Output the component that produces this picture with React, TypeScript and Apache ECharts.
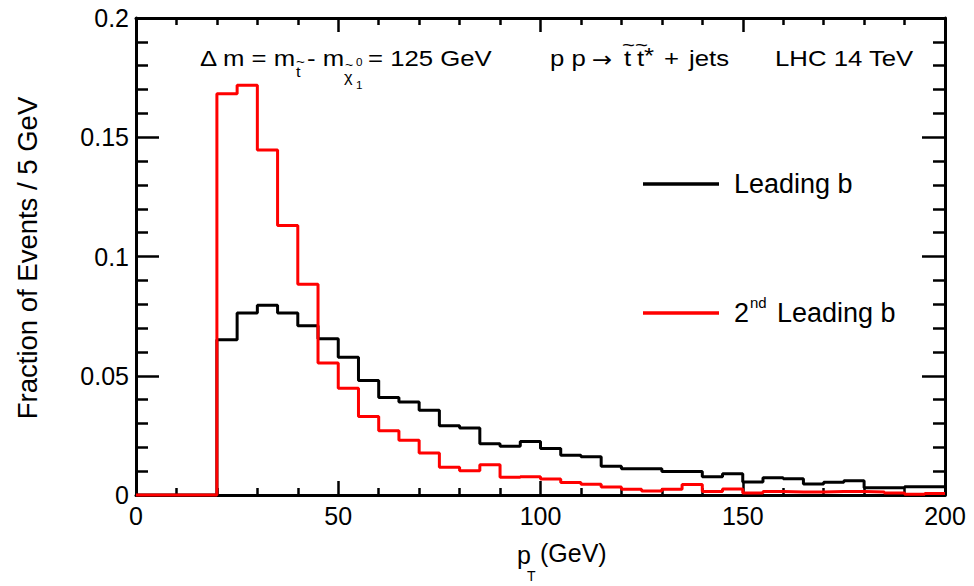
import React, { useEffect, useRef } from "react";
import * as echarts from "echarts";

// Bin left edges (GeV), 5 GeV bins from 0 to 200
const binEdges: number[] = [
  0, 5, 10, 15, 20, 25, 30, 35, 40, 45, 50, 55, 60, 65, 70, 75, 80, 85, 90, 95,
  100, 105, 110, 115, 120, 125, 130, 135, 140, 145, 150, 155, 160, 165, 170, 175, 180, 185, 190, 195,
];
const xMaxEdge = 200;

const leadingB: number[] = [
  0, 0, 0, 0, 0.0651, 0.0763, 0.0796, 0.0763, 0.071, 0.0655,
  0.0578, 0.048, 0.0409, 0.039, 0.0355, 0.029, 0.0281, 0.0215, 0.0204, 0.0224,
  0.0195, 0.0167, 0.016, 0.0121, 0.011, 0.011, 0.0099, 0.0099, 0.0076, 0.0089,
  0.0054, 0.0072, 0.0068, 0.0046, 0.0053, 0.006, 0.003, 0.003, 0.0035, 0.0035,
];
const secondLeadingB: number[] = [
  0, 0, 0, 0, 0.1682, 0.1718, 0.1447, 0.113, 0.0884, 0.0553,
  0.0448, 0.0329, 0.0269, 0.023, 0.0176, 0.0116, 0.0102, 0.0127, 0.0074, 0.0077,
  0.0067, 0.0052, 0.0045, 0.0034, 0.0024, 0.0017, 0.0024, 0.0044, 0.0015, 0.0025,
  0.0008, 0.0015, 0.0013, 0.0013, 0.0015, 0.0015, 0.0013, 0.0008, 0.0003, 0.0006,
];

const xTicks = { min: 0, max: 200, interval: 50 };
const yTicks = { min: 0, max: 0.2, interval: 0.05 };

const FONT = "Liberation Sans, Arial, sans-serif";
const TOP_SX = 1.17;

function stepData(vals: number[]): number[][] {
  const d = binEdges.map((x, i) => [x, vals[i]]);
  d.push([xMaxEdge, vals[vals.length - 1]]);
  return d;
}

function txt(text: string, x: number, y: number, size: number, extra: any = {}, sx = 1, family = FONT) {
  return {
    type: "text",
    x,
    y,
    scaleX: sx,
    silent: true,
    style: {
      text,
      font: `${size}px ${family}`,
      fill: "#000",
      textAlign: "left",
      textVerticalAlign: "middle",
      ...extra,
    },
  };
}

export default function App() {
  const ref = useRef<HTMLDivElement>(null);
  useEffect(() => {
    if (!ref.current) return;
    const chart = echarts.init(ref.current, null, { renderer: "svg" });
    const axisLine = { show: true, onZero: false, lineStyle: { color: "#000", width: 3 } };
    const xBase = {
      type: "value",
      min: xTicks.min,
      max: xTicks.max,
      interval: xTicks.interval,
      axisLine,
      axisTick: { show: true, inside: true, length: 14, lineStyle: { color: "#000", width: 2.5 } },
      minorTick: { show: true, splitNumber: 5, length: 7, lineStyle: { color: "#000", width: 2.5 } },
      splitLine: { show: false },
      minorSplitLine: { show: false },
    };
    const yBase = {
      type: "value",
      min: yTicks.min,
      max: yTicks.max,
      interval: yTicks.interval,
      axisLine,
      axisTick: { show: true, inside: true, length: 23, lineStyle: { color: "#000", width: 2.5 } },
      minorTick: { show: true, splitNumber: 5, length: 12, lineStyle: { color: "#000", width: 2.5 } },
      splitLine: { show: false },
      minorSplitLine: { show: false },
    };
    const top = (t: string, x: number, y: number, size: number, extra: any = {}) =>
      txt(t, x, y, size, extra, TOP_SX);
    const option: any = {
      animation: false,
      backgroundColor: "#fff",
      grid: { left: 136, right: 29, top: 18, bottom: 91, containLabel: false },
      xAxis: [
        {
          ...xBase,
          position: "bottom",
          axisLabel: { show: true, fontSize: 25, color: "#000", fontFamily: FONT, margin: 8 },
        },
        { ...xBase, position: "top", axisLabel: { show: false } },
      ],
      yAxis: [
        {
          ...yBase,
          position: "left",
          axisLabel: {
            show: true,
            fontSize: 25,
            color: "#000",
            fontFamily: FONT,
            margin: 7,
            formatter: (v: number) => String(+v.toFixed(2)),
          },
        },
        { ...yBase, position: "right", axisLabel: { show: false } },
      ],
      series: [
        {
          name: "Leading b",
          type: "line",
          step: "end",
          xAxisIndex: 0,
          yAxisIndex: 0,
          symbol: "none",
          lineStyle: { color: "#000", width: 3 },
          data: stepData(leadingB),
          clip: false,
        },
        {
          name: "2nd Leading b",
          type: "line",
          step: "end",
          xAxisIndex: 0,
          yAxisIndex: 0,
          symbol: "none",
          lineStyle: { color: "#ff0000", width: 3 },
          data: stepData(secondLeadingB),
          clip: false,
        },
      ],
      graphic: [
        // top annotation: Δ m = m_t~ - m_χ~1^0 = 125 GeV
        top("Δ m = m", 200, 58.5, 22),
        top("t", 296, 72, 14),
        top("~", 296, 61, 13),
        top("- m", 307, 58.5, 22),
        top("χ", 344, 77, 14),
        top("~", 345, 65, 12),
        top("0", 356, 62, 10),
        top("1", 356, 85, 10),
        top("= 125 GeV", 368, 58.5, 22),
        // p p -> t~ t~* + jets
        top("p p", 550, 58.5, 22),
        txt("→", 592, 59, 22, {}, 1.1, "DejaVu Sans, sans-serif"),
        top("t", 624, 58.5, 22),
        top("~", 622, 44, 19),
        top("t", 637, 58.5, 22),
        top("~", 635, 44, 19),
        top("*", 644, 55, 22),
        top("+", 664, 58.5, 22),
        top("jets", 689, 58.5, 22),
        top("LHC 14 TeV", 775, 58.5, 22),
        // legend
        {
          type: "line",
          silent: true,
          shape: { x1: 643, y1: 184, x2: 719, y2: 184 },
          style: { stroke: "#000", lineWidth: 3.5 },
        },
        txt("Leading b", 734, 184, 27),
        {
          type: "line",
          silent: true,
          shape: { x1: 643, y1: 313, x2: 719, y2: 313 },
          style: { stroke: "#ff0000", lineWidth: 3.5 },
        },
        txt("2", 734, 313, 27),
        txt("nd", 750, 302, 15),
        txt("Leading b", 777, 313, 27),
        // axis titles
        txt("p", 517, 555, 25),
        txt("T", 527, 576, 14),
        txt("(GeV)", 540, 553, 25),
        {
          type: "text",
          silent: true,
          x: 27,
          y: 258,
          rotation: Math.PI / 2,
          style: {
            text: "Fraction of Events / 5 GeV",
            font: `27.5px ${FONT}`,
            fill: "#000",
            textAlign: "center",
            textVerticalAlign: "middle",
          },
        },
      ],
    };
    chart.setOption(option);
    return () => chart.dispose();
  }, []);
  return (
    <div
      ref={ref}
      style={{ position: "fixed", left: 0, top: 0, width: 974, height: 586, background: "#fff" }}
    />
  );
}
